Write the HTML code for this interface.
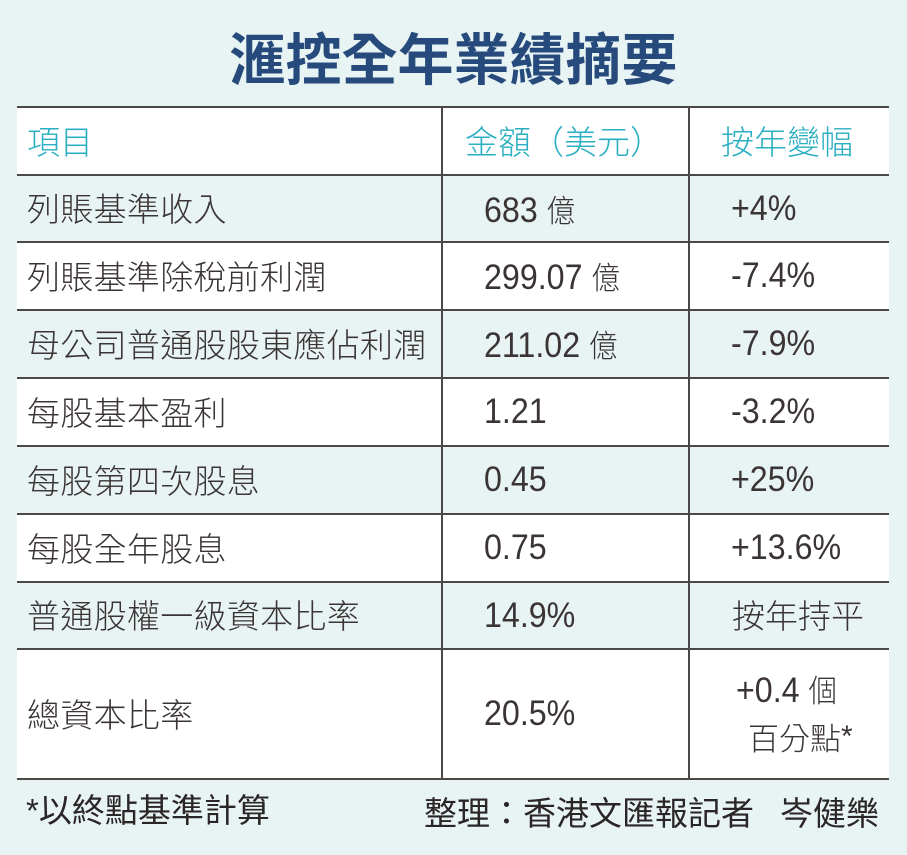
<!DOCTYPE html>
<html>
<head>
<meta charset="utf-8">
<style>
  html,body{margin:0;padding:0;}
  body{width:907px;height:855px;background:#e8f4f3;position:relative;overflow:hidden;
    font-family:"Liberation Sans","Noto Sans CJK TC",sans-serif;color:#3a3435;}
  .t{position:absolute;white-space:nowrap;}
  .title{left:0;width:907px;top:28px;height:58px;line-height:58px;text-align:center;
    font-family:"Noto Sans CJK TC","Liberation Sans",sans-serif;font-weight:700;font-size:56px;color:#264a7c;}
  .w{position:absolute;left:17px;width:872px;background:#ffffff;}
  .h{position:absolute;left:17px;width:872px;height:2px;background:#4d4848;}
  .v{position:absolute;width:2px;background:#4d4848;top:107px;height:672px;}
  .c1{left:27px;font-family:"Noto Sans CJK TC",sans-serif;font-weight:300;font-size:33px;letter-spacing:0.3px;}
  .hd{color:#2aafc2;font-family:"Noto Sans CJK TC",sans-serif;font-weight:300;font-size:33px;}
  .n{font-family:"Liberation Sans",sans-serif;font-size:35px;letter-spacing:0;transform:scaleX(0.92);transform-origin:0 50%;}
  .n .k{font-family:"Noto Sans CJK TC",sans-serif;font-weight:300;font-size:31px;letter-spacing:0;}
  .c2{left:484px;}
  .c3{left:731px;}
  .cj{font-family:"Noto Sans CJK TC",sans-serif;font-weight:300;font-size:33px;}
  .ft{font-family:"Liberation Sans","Noto Sans CJK TC",sans-serif;font-size:33px;top:791px;height:40px;line-height:40px;color:#2a2526;}
</style>
</head>
<body>
<div class="t title">滙控全年業績摘要</div>

<!-- white rows -->
<div class="w" style="top:107px;height:68px;"></div>
<div class="w" style="top:242px;height:68px;"></div>
<div class="w" style="top:378px;height:68px;"></div>
<div class="w" style="top:514px;height:68px;"></div>
<div class="w" style="top:649px;height:130px;"></div>

<!-- horizontal lines -->
<div class="h" style="top:106px;"></div>
<div class="h" style="top:174px;"></div>
<div class="h" style="top:241px;"></div>
<div class="h" style="top:309px;"></div>
<div class="h" style="top:377px;"></div>
<div class="h" style="top:445px;"></div>
<div class="h" style="top:513px;"></div>
<div class="h" style="top:581px;"></div>
<div class="h" style="top:648px;"></div>
<div class="h" style="top:778px;"></div>
<!-- vertical lines -->
<div class="v" style="left:441px;"></div>
<div class="v" style="left:688px;"></div>

<!-- header -->
<div class="t hd" style="left:27px;top:107px;height:68px;line-height:66px;">項目</div>
<div class="t hd" style="left:465px;top:107px;height:68px;line-height:66px;">金額（美元）</div>
<div class="t hd" style="left:721px;top:107px;height:68px;line-height:66px;">按年變幅</div>

<!-- row 1 -->
<div class="t c1" style="top:175px;height:67px;line-height:65px;">列賬基準收入</div>
<div class="t n c2" style="top:175px;height:67px;line-height:67px;">683 <span class="k">億</span></div>
<div class="t n c3" style="top:175px;height:67px;line-height:67px;">+4%</div>

<!-- row 2 -->
<div class="t c1" style="top:242px;height:68px;line-height:66px;">列賬基準除稅前利潤</div>
<div class="t n c2" style="top:242px;height:68px;line-height:68px;">299.07 <span class="k">億</span></div>
<div class="t n c3" style="top:242px;height:68px;line-height:68px;">-7.4%</div>

<!-- row 3 -->
<div class="t c1" style="top:310px;height:68px;line-height:66px;">母公司普通股股東應佔利潤</div>
<div class="t n c2" style="top:310px;height:68px;line-height:68px;">211.02 <span class="k">億</span></div>
<div class="t n c3" style="top:310px;height:68px;line-height:68px;">-7.9%</div>

<!-- row 4 -->
<div class="t c1" style="top:378px;height:68px;line-height:66px;">每股基本盈利</div>
<div class="t n c2" style="top:378px;height:68px;line-height:68px;">1.21</div>
<div class="t n c3" style="top:378px;height:68px;line-height:68px;">-3.2%</div>

<!-- row 5 -->
<div class="t c1" style="top:446px;height:68px;line-height:66px;">每股第四次股息</div>
<div class="t n c2" style="top:446px;height:68px;line-height:68px;">0.45</div>
<div class="t n c3" style="top:446px;height:68px;line-height:68px;">+25%</div>

<!-- row 6 -->
<div class="t c1" style="top:514px;height:68px;line-height:66px;">每股全年股息</div>
<div class="t n c2" style="top:514px;height:68px;line-height:68px;">0.75</div>
<div class="t n c3" style="top:514px;height:68px;line-height:68px;">+13.6%</div>

<!-- row 7 -->
<div class="t c1" style="top:582px;height:67px;line-height:65px;">普通股權一級資本比率</div>
<div class="t n c2" style="top:582px;height:67px;line-height:67px;">14.9%</div>
<div class="t cj" style="left:732px;top:582px;height:67px;line-height:65px;">按年持平</div>

<!-- row 8 -->
<div class="t c1" style="top:649px;height:130px;line-height:128px;">總資本比率</div>
<div class="t n c2" style="top:649px;height:130px;line-height:130px;">20.5%</div>
<div class="t n" style="left:736px;top:669px;height:40px;line-height:40px;">+0.4 <span class="k">個</span></div>
<div class="t" style="left:748px;top:717px;height:40px;line-height:40px;font-family:'Noto Sans CJK TC',sans-serif;font-weight:300;font-size:31px;">百分點<span style="font-family:'Liberation Sans',sans-serif;font-size:30px;vertical-align:4px;">*</span></div>

<!-- footer -->
<div class="t ft" style="left:26px;">*以終點基準計算</div>
<div class="t ft" style="left:424px;font-family:'Noto Sans CJK TC',sans-serif;">整理：香港文匯報記者</div>
<div class="t ft" style="left:780px;font-family:'Noto Sans CJK TC',sans-serif;">岑健樂</div>
</body>
</html>
